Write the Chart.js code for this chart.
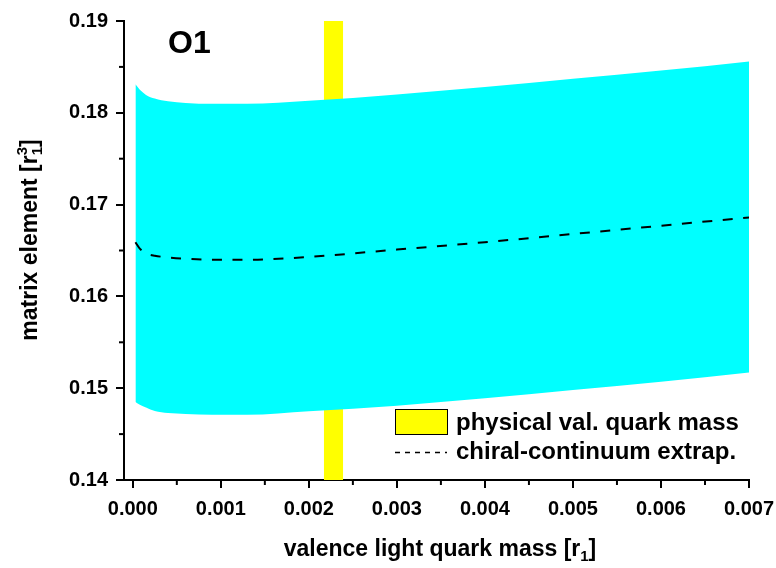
<!DOCTYPE html>
<html>
<head>
<meta charset="utf-8">
<script src="https://cdn.jsdelivr.net/npm/chart.js@4/dist/chart.umd.min.js"></script>
<style>
  html, body { margin: 0; padding: 0; background: #fff; }
  #wrap { width: 776px; height: 568px; }
</style>
</head>
<body>
<div id="wrap"><canvas id="chart" width="776" height="568"></canvas></div>
<script>
// values
var massX      = [0.00003, 0.00008, 0.00015, 0.00025, 0.0004, 0.0006, 0.0009, 0.0013, 0.002, 0.003, 0.004, 0.005, 0.006, 0.007];
var bandUpper  = [0.1831, 0.1825, 0.18195, 0.18155, 0.18125, 0.18108, 0.18098, 0.18098, 0.1813, 0.1820, 0.1828, 0.1837, 0.1846, 0.1856];
var bandLower  = [0.1485, 0.1482, 0.1479, 0.14752, 0.1473, 0.1472, 0.1471, 0.1471, 0.1475, 0.1481, 0.1489, 0.1498, 0.1507, 0.1517];
var extrapLine = [0.1659, 0.1652, 0.1647, 0.16443, 0.16425, 0.1641, 0.1640, 0.1640, 0.1643, 0.1651, 0.1659, 0.1668, 0.1677, 0.1686];
var physMass   = [0.00217, 0.00239];   // yellow band edges
var xTicks = [0, 0.001, 0.002, 0.003, 0.004, 0.005, 0.006, 0.007];
var yTicks = [0.14, 0.15, 0.16, 0.17, 0.18, 0.19];
var legendLabels = ['physical val. quark mass', 'chiral-continuum extrap.'];
var panelLabel = 'O1';

var FONT = "'Liberation Sans', Arial, sans-serif";

function pts(ys) {
	return massX.map(function (x, i) { return {x: x, y: ys[i]}; });
}

// minor ticks halfway between the major ones
function minorTicks(chart) {
	var ctx = chart.ctx, xs = chart.scales.x, ys = chart.scales.y;
	ctx.save();
	ctx.strokeStyle = '#000';
	ctx.lineWidth = 2;
	for (var i = 0; i < xTicks.length - 1; i++) {
		var px = xs.getPixelForValue((xTicks[i] + xTicks[i + 1]) / 2);
		ctx.beginPath(); ctx.moveTo(px, xs.top); ctx.lineTo(px, xs.top + 5); ctx.stroke();
	}
	for (var j = 0; j < yTicks.length - 1; j++) {
		var py = ys.getPixelForValue((yTicks[j] + yTicks[j + 1]) / 2);
		ctx.beginPath(); ctx.moveTo(ys.right, py); ctx.lineTo(ys.right - 5, py); ctx.stroke();
	}
	ctx.restore();
}

// text with a sub/superscript tail, e.g. [r_1] or [r^3_1]
function drawScriptText(ctx, main, sup, sub, tail, x, y) {
	var big = 'bold 23px ' + FONT, small = 'bold 15px ' + FONT;
	ctx.font = big;
	var w1 = ctx.measureText(main).width;
	ctx.font = small;
	var w2 = Math.max(sup ? ctx.measureText(sup).width : 0, ctx.measureText(sub).width);
	ctx.font = big;
	var w3 = ctx.measureText(tail).width;
	var start = x - (w1 + w2 + w3) / 2;
	ctx.textAlign = 'left';
	ctx.textBaseline = 'alphabetic';
	ctx.fillText(main, start, y);
	ctx.font = small;
	if (sup) ctx.fillText(sup, start + w1, y - 10);
	ctx.fillText(sub, start + w1, y + 5);
	ctx.font = big;
	ctx.fillText(tail, start + w1 + w2, y);
}

var decorations = {
	id: 'decorations',
	afterDraw: function (chart) {
		var ctx = chart.ctx;
		minorTicks(chart);
		ctx.save();
		ctx.fillStyle = '#000';

		// panel label
		ctx.font = 'bold 32px ' + FONT;
		ctx.textAlign = 'left';
		ctx.textBaseline = 'alphabetic';
		ctx.fillText(panelLabel, 168, 53);

		// axis titles
		drawScriptText(ctx, 'valence light quark mass [r', null, '1', ']', 440, 556);
		ctx.save();
		ctx.translate(37, 240);
		ctx.rotate(-Math.PI / 2);
		drawScriptText(ctx, 'matrix element [r', '3', '1', ']', 0, 0);
		ctx.restore();

		// legend
		ctx.fillStyle = '#FFFF00';
		ctx.fillRect(395, 409.5, 53, 25);
		ctx.strokeStyle = '#000';
		ctx.lineWidth = 1;
		ctx.strokeRect(395.5, 409.5, 52, 25);
		ctx.beginPath();
		ctx.setLineDash([5, 5]);
		ctx.lineWidth = 1.5;
		ctx.moveTo(395, 452.5); ctx.lineTo(447, 452.5);
		ctx.stroke();
		ctx.setLineDash([]);
		ctx.fillStyle = '#000';
		ctx.font = 'bold 24px ' + FONT;
		ctx.textBaseline = 'middle';
		ctx.fillText(legendLabels[0], 456, 423);
		ctx.fillText(legendLabels[1], 456, 452);
		ctx.restore();
	}
};

new Chart(document.getElementById('chart'), {
	type: 'line',
	data: {
		datasets: [{
			label: legendLabels[1],
			data: pts(extrapLine),
			borderColor: '#000',
			borderWidth: 2,
			borderDash: [10, 10.5],
			pointRadius: 0,
			fill: false,
			cubicInterpolationMode: 'monotone',
			order: 0
		}, {
			label: 'upper',
			data: pts(bandUpper),
			borderColor: 'transparent',
			borderWidth: 0,
			backgroundColor: '#00FFFF',
			pointRadius: 0,
			fill: '+1',
			cubicInterpolationMode: 'monotone',
			order: 1
		}, {
			label: 'lower',
			data: pts(bandLower),
			borderColor: 'transparent',
			borderWidth: 0,
			pointRadius: 0,
			fill: false,
			cubicInterpolationMode: 'monotone',
			order: 1
		}, {
			label: legendLabels[0],
			data: [{x: physMass[0], y: yTicks[yTicks.length - 1]}, {x: physMass[1], y: yTicks[yTicks.length - 1]}],
			borderColor: 'transparent',
			borderWidth: 0,
			backgroundColor: '#FFFF00',
			pointRadius: 0,
			fill: 'start',
			order: 2
		}]
	},
	options: {
		responsive: false,
		animation: false,
		layout: { padding: { top: 21, right: 27, left: 0, bottom: 0 } },
		plugins: { legend: { display: false }, tooltip: { enabled: false } },
		scales: {
			x: {
				type: 'linear',
				min: -0.0001,
				max: 0.007,
				afterBuildTicks: function (scale) { scale.ticks = xTicks.map(function (v) { return {value: v}; }); },
				afterFit: function (scale) { scale.height = 88; scale.paddingLeft = 0; scale.paddingRight = 0; },
				grid: { drawOnChartArea: false, color: '#000', lineWidth: 2, tickLength: 8 },
				border: { display: true, color: '#000', width: 2 },
				ticks: {
					color: '#000',
					padding: 9,
					maxRotation: 0,
					font: { family: FONT, size: 20, weight: 'bold' },
					callback: function (v) { return v.toFixed(3); }
				}
			},
			y: {
				type: 'linear',
				min: 0.14,
				max: 0.19,
				afterBuildTicks: function (scale) { scale.ticks = yTicks.map(function (v) { return {value: v}; }); },
				afterFit: function (scale) { scale.width = 124; scale.paddingTop = 0; scale.paddingBottom = 0; },
				grid: { drawOnChartArea: false, color: '#000', lineWidth: 2, tickLength: 8 },
				border: { display: true, color: '#000', width: 2 },
				ticks: {
					color: '#000',
					padding: 8,
					font: { family: FONT, size: 20, weight: 'bold' },
					callback: function (v) { return v.toFixed(2); }
				}
			}
		}
	},
	plugins: [decorations]
});
</script>
</body>
</html>
